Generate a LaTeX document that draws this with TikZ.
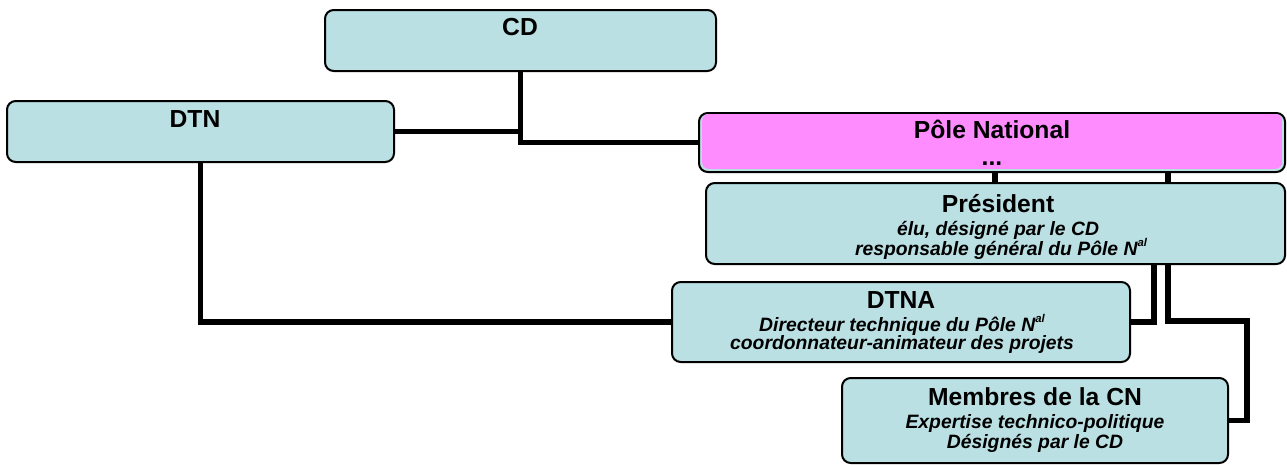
\documentclass[tikz,border=0pt]{standalone}
\usepackage{fontspec}
\setmainfont{Liberation Sans}
\usetikzlibrary{backgrounds}
\definecolor{boxblue}{RGB}{186,224,227}
\definecolor{polepink}{RGB}{255,140,255}
\newcommand\rbox[6]{\node[box,fill=#6,minimum width={(#4-#2)*0.75pt},minimum height={(#5-#3)*0.75pt}] (#1) at ({(#2+#4)/2},{(#3+#5)/2}) {};}
\newcommand\supal{\raisebox{0.42em}{\fontsize{8.5}{9}\selectfont al}}
\begin{document}
\begin{tikzpicture}[x=0.75pt,y=-0.75pt,
 box/.style={draw=black,line width=1.5pt,rounded corners=6.5pt,inner sep=0pt,outer sep=0pt},
 conn/.style={line width=3.8pt,draw=black},
 ttl/.style={anchor=base,inner sep=0pt,font=\fontsize{18.5}{20}\selectfont\bfseries},
 sub/.style={anchor=base,inner sep=0pt,font=\fontsize{14.5}{16}\selectfont\bfseries\itshape}]
\useasboundingbox (0,0) rectangle (1287,464);
% boxes
\rbox{cd}{325}{10}{716}{71}{boxblue}
\rbox{dtn}{7}{101}{394}{162}{boxblue}
\rbox{pole}{699}{113}{1285}{172}{boxblue}
\fill[polepink,rounded corners=5pt] ([shift={(2.3pt,-0.75pt)}]pole.north west) rectangle ([shift={(-2.3pt,2.3pt)}]pole.south east);
\rbox{pres}{706}{183}{1285}{264}{boxblue}
\rbox{dtna}{672}{282}{1130}{362}{boxblue}
\rbox{memb}{842}{378}{1228}{463}{boxblue}
% texts
\node[ttl] (tcd) at (520,36) {CD};
\node[ttl] (tdtn) at (195,127) {DTN};
\node[ttl] (tpole) at (992,138) {Pôle National};
\node[ttl] (tdots) at (992,165) {...};
\node[ttl] (tpres) at (998,212) {Président};
\node[sub] (tpres1) at (998,235) {élu, désigné par le CD};
\node[sub] (tpres2) at (1001,255) {responsable général du Pôle N\supal};
\node[ttl] (tdtna) at (901,308) {DTNA};
\node[sub] (tdtna1) at (902,331) {Directeur technique du Pôle N\supal};
\node[sub] (tdtna2) at (902,349) {coordonnateur-animateur des projets};
\node[ttl] (tmemb) at (1035,405) {Membres de la CN};
\node[sub] (tmemb1) at (1035,428) {Expertise technico-politique};
\node[sub] (tmemb2) at (1035,448) {Désignés par le CD};
% connectors
\begin{pgfonlayer}{background}
\coordinate (ja) at (995,0);
\coordinate (jb) at (1154,0);
\coordinate (jc) at (1168,0);
\coordinate (jd) at (1247,321);
\draw[conn] (cd.south) |- (pole.west);
\draw[conn] (dtn.east) -- (dtn.east -| cd.south);
\draw[conn] (dtn.south) |- (dtna.west);
\draw[conn] (pole.south -| ja) -- (pres.north -| ja);
\draw[conn] (pres.south -| jb) |- (dtna.east);
\draw[conn] (pole.south -| jc) |- (jd) |- (memb.east);
\end{pgfonlayer}
\end{tikzpicture}
\end{document}
